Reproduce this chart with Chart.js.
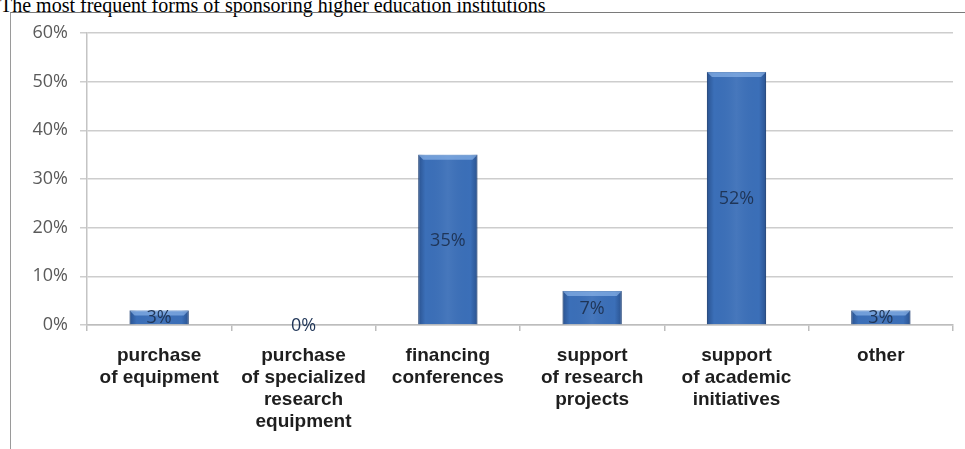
<!DOCTYPE html>
<html>
<head>
<meta charset="utf-8">
<script src="https://cdn.jsdelivr.net/npm/chart.js@4/dist/chart.umd.min.js"></script>
<style>
  html, body { margin: 0; padding: 0; background: #fff; overflow: hidden; }
  body { width: 965px; height: 449px; position: relative; }
  #title {
    position: absolute; left: 0; top: -5px; white-space: nowrap;
    font-family: "Liberation Serif", "Times New Roman", serif;
    font-size: 20px; line-height: 20px; color: #000;
  }
  #frame {
    position: absolute; left: 10px; top: 12px; width: 1000px; height: 500px;
    border-left: 1px solid #9a9a9a; border-top: 1px solid #7a7a7a;
  }
  #chart-sponsoring { position: absolute; left: 0; top: 0; }
</style>
</head>
<body>
<div id="title">The most frequent forms of sponsoring higher education institutions</div>
<div id="frame"></div>
<canvas id="chart-sponsoring" width="965" height="449"></canvas>
<script>
const categories = [
  ['purchase', 'of equipment'],
  ['purchase', 'of specialized', 'research', 'equipment'],
  ['financing', 'conferences'],
  ['support', 'of research', 'projects'],
  ['support', 'of academic', 'initiatives'],
  ['other']
];
const shares = [3, 0, 35, 7, 52, 3];
const yTicks = [0, 10, 20, 30, 40, 50, 60];

// bevel shading on each bar, then the value in the middle of it
const barLabels = {
  id: 'barLabels',
  afterDatasetsDraw(chart) {
    const ctx = chart.ctx;
    const meta = chart.getDatasetMeta(0);
    meta.data.forEach((bar, i) => {
      const left = bar.x - bar.width / 2;
      const right = bar.x + bar.width / 2;
      const top = bar.y;
      const h = bar.base - bar.y;
      ctx.save();
      if (h > 0) {
        const g = ctx.createLinearGradient(left, 0, right, 0);
        g.addColorStop(0, 'rgba(10,30,70,0.35)');
        g.addColorStop(0.12, 'rgba(10,30,70,0)');
        g.addColorStop(0.5, 'rgba(255,255,255,0.06)');
        g.addColorStop(0.88, 'rgba(10,30,70,0)');
        g.addColorStop(1, 'rgba(10,30,70,0.35)');
        ctx.fillStyle = g;
        ctx.fillRect(left, top, bar.width, h);
        const bevel = Math.min(5, h / 2);
        ctx.beginPath();
        ctx.moveTo(left, top);
        ctx.lineTo(right, top);
        ctx.lineTo(right - bevel, top + bevel);
        ctx.lineTo(left + bevel, top + bevel);
        ctx.closePath();
        ctx.fillStyle = 'rgba(150,190,240,0.6)';
        ctx.fill();
      }
      ctx.fillStyle = '#1f3557';
      ctx.font = '18px "Open Sans", sans-serif';
      ctx.textAlign = 'center';
      ctx.textBaseline = 'middle';
      ctx.fillText(shares[i] + '%', bar.x, (bar.y + bar.base) / 2 + 1);
      ctx.restore();
    });
  }
};

new Chart(document.getElementById('chart-sponsoring'), {
  type: 'bar',
  data: {
    labels: categories,
    datasets: [{
      data: shares,
      backgroundColor: '#3b6fb8',
      borderColor: '#2a5592',
      borderWidth: 1,
      categoryPercentage: 1,
      barPercentage: 0.41
    }]
  },
  options: {
    responsive: false,
    animation: false,
    layout: { padding: { top: 33, right: 12, left: 0, bottom: 0 } },
    plugins: { legend: { display: false }, tooltip: { enabled: false } },
    scales: {
      x: {
        afterFit: (scale) => { scale.height = 124; },
        grid: { display: true, drawOnChartArea: false, color: '#bdbdbd', lineWidth: 1.5, tickLength: 6 },
        border: { color: '#bdbdbd', width: 1.5 },
        ticks: {
          color: '#1e1e1e',
          padding: 14,
          maxRotation: 0,
          autoSkip: false,
          font: { family: '"Liberation Sans", Arial, sans-serif', size: 19, weight: 'bold', lineHeight: '22px' }
        }
      },
      y: {
        min: 0,
        max: 60,
        afterFit: (scale) => { scale.width = 87; },
        afterBuildTicks: (scale) => { scale.ticks = yTicks.map(v => ({ value: v })); },
        grid: { color: '#cdcdcd', lineWidth: 1.5, tickLength: 7 },
        border: { color: '#c4c4c4', width: 1.5 },
        ticks: {
          color: '#5a5a5a',
          padding: 12,
          font: { family: '"Open Sans", sans-serif', size: 18 },
          callback: (v) => v + '%'
        }
      }
    }
  },
  plugins: [barLabels]
});
</script>
</body>
</html>
